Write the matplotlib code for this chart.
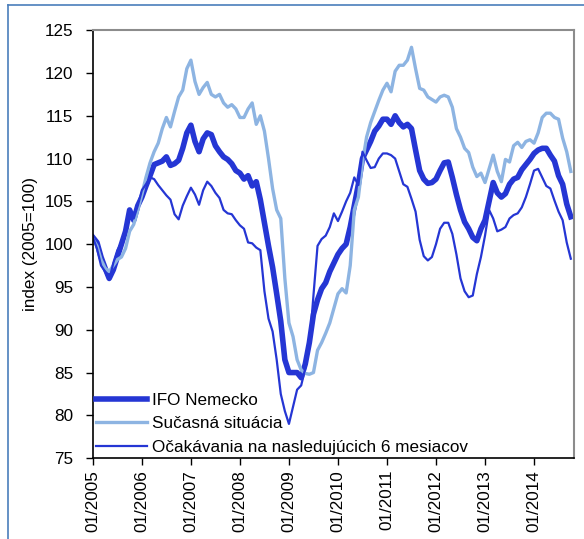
import numpy as np
import matplotlib.pyplot as plt
from matplotlib.lines import Line2D

plt.rcParams['font.family'] = ['Liberation Sans', 'DejaVu Sans']

# mesacne hodnoty 01/2005 - 10/2014 (2005=100)
ifo = [100.8, 100.2, 98.5, 97.2, 96.0, 97.0, 98.5, 100.0, 101.5, 104.0, 102.8, 104.5,
       105.5, 106.8, 108.0, 109.3, 109.5, 109.7, 110.2, 109.2, 109.4, 109.8, 111.2, 113.0,
       113.9, 112.0, 110.8, 112.3, 113.0, 112.8, 111.5, 110.8, 110.2, 109.9, 109.4, 108.6,
       108.3, 107.6, 108.0, 106.8, 107.3, 105.2, 102.5, 99.8, 97.3, 94.2, 91.0, 86.5,
       85.0, 85.0, 85.0, 84.4, 86.0, 88.5, 91.8, 93.5, 94.8, 95.5, 96.8, 97.8,
       98.8, 99.5, 100.0, 102.0, 104.5, 107.0, 110.0, 111.0, 112.0, 113.2, 113.8, 114.6,
       114.6, 114.0, 115.0, 114.2, 113.7, 114.0, 113.5, 111.0, 108.6, 107.6, 107.1, 107.2,
       107.6, 108.6, 109.5, 109.6, 107.8, 105.8, 104.0, 102.6, 101.8, 100.8, 100.4, 101.8,
       102.8, 105.0, 107.2, 106.0, 105.5, 105.9, 107.0, 107.6, 107.8, 108.7, 109.3, 109.9,
       110.6, 111.0, 111.2, 111.2, 110.4, 109.7, 108.0, 107.0, 104.7, 103.2]

situacia = [100.6, 99.8, 98.2, 97.2, 96.8, 97.5, 98.2, 98.5, 99.5, 101.5, 102.3, 104.0,
            105.8, 107.8, 109.5, 110.8, 111.8, 113.5, 114.8, 113.7, 115.5, 117.2, 118.0, 120.5,
            121.5, 119.0, 117.5, 118.3, 118.9, 117.5, 117.2, 117.5, 116.5, 116.0, 116.3, 115.8,
            114.8, 114.8, 115.8, 116.5, 114.0, 115.0, 113.2, 110.0, 106.5, 104.0, 103.0, 96.0,
            90.8, 89.2, 86.5, 85.3, 84.9, 84.8, 85.0, 87.6, 88.5, 89.6, 90.8, 92.5,
            94.2, 94.8, 94.3, 97.5, 104.0, 105.5, 109.5, 112.5, 114.2, 115.5, 116.8, 118.0,
            118.8, 117.8, 120.2, 120.9, 120.9, 121.5, 123.0, 120.5, 118.2, 118.0, 117.2, 116.9,
            116.6, 117.2, 117.4, 117.2, 116.0, 113.5, 112.5, 111.2, 110.7, 109.0, 107.9, 108.3,
            107.2, 108.8, 110.4, 108.5, 107.3, 109.9, 109.6, 111.5, 111.9, 111.3, 112.0, 112.2,
            111.8, 113.0, 114.8, 115.3, 115.3, 114.8, 114.6, 112.4, 110.8, 108.5]

ocakavania = [100.8, 99.5, 97.5, 96.8, 95.8, 97.8, 99.3, 100.2, 101.2, 104.0, 103.0, 104.5,
              106.3, 107.0, 107.8, 107.6, 106.9, 106.3, 105.7, 105.2, 103.5, 102.9, 104.5, 105.6,
              106.6, 105.8, 104.6, 106.3, 107.3, 106.8, 106.0, 105.4, 104.0, 103.6, 103.5, 102.8,
              102.2, 101.8, 100.2, 100.1, 99.6, 99.3, 94.5, 91.3, 89.8, 86.5, 82.5, 80.5,
              79.0, 81.0, 83.0, 83.5, 85.5, 88.0, 94.0, 99.8, 100.6, 101.0, 102.0, 103.6,
              102.7, 103.8, 105.0, 106.0, 107.8, 106.9, 110.8, 109.8, 108.9, 109.0, 110.0, 110.6,
              110.6, 110.4, 110.0, 108.5, 107.0, 106.7, 105.3, 103.8, 100.5, 98.6, 98.1, 98.5,
              100.0, 101.8, 102.5, 102.5, 101.2, 98.8, 96.0, 94.5, 93.8, 94.0, 96.5, 98.5,
              101.0, 104.0, 103.0, 101.5, 101.7, 102.0, 103.0, 103.4, 103.6, 104.3, 105.5, 107.0,
              108.6, 108.8, 107.8, 106.8, 106.5, 105.1, 103.8, 102.8, 100.2, 98.3]

labels = ["IFO Nemecko", "Sučasná situácia", "Očakávania na nasledujúcich 6 mesiacov"]
tick_labels = ["01/%d" % r for r in range(2005, 2015)]

dark = "#2536d4"
light = "#8db4e2"
fs = 12.3

fig = plt.figure(figsize=(5.84, 5.39), dpi=100)
ax = fig.add_axes([0.159, 0.150, 0.824, 0.794])

x = np.arange(len(ifo))
ax.plot(x, ifo, color=dark, lw=4.0, label=labels[0], solid_joinstyle="round")
ax.plot(x, situacia, color=light, lw=2.4, label=labels[1])
ax.plot(x, ocakavania, color=dark, lw=1.6, label=labels[2])

ax.set_xlim(0, 117.8)
ax.set_ylim(75, 125)
ax.set_yticks(np.arange(75, 126, 5))
ax.set_xticks(np.arange(0, 118, 12))
ax.set_xticklabels(tick_labels, rotation=90)
ax.tick_params(axis="both", labelsize=fs, direction="out", length=5, width=1)
ax.tick_params(axis="y", pad=9)
ax.set_ylabel("index (2005=100)", fontsize=fs, labelpad=5)

ax.spines["top"].set_color("#8c8c8c")
ax.spines["right"].set_color("#8c8c8c")
ax.spines["top"].set_linewidth(1.5)
ax.spines["right"].set_linewidth(1.5)
ax.spines["left"].set_linewidth(1.2)
ax.spines["bottom"].set_linewidth(1.2)

ax.legend(loc="lower left", frameon=False, fontsize=fs, handlelength=2.95,
          handletextpad=0.3, labelspacing=0.5, borderaxespad=0.0, borderpad=0.2)

# okraj okolo grafu
fig.add_artist(Line2D([8 / 584, 8 / 584], [0, 1 - 5 / 539], color="#4a7ebb", lw=1.2))
fig.add_artist(Line2D([8 / 584, 1], [1 - 5 / 539, 1 - 5 / 539], color="#4a7ebb", lw=1.2))

fig.savefig("out.png", dpi=100)
